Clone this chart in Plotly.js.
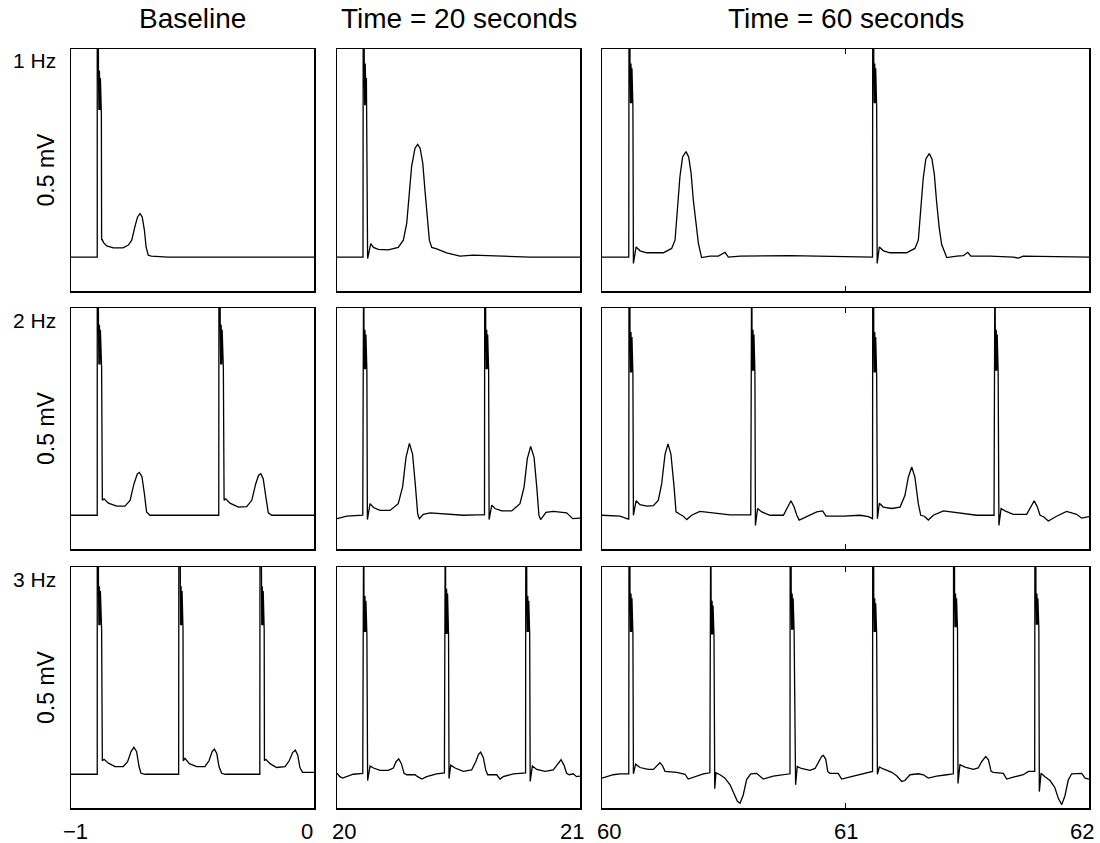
<!DOCTYPE html>
<html><head><meta charset="utf-8">
<script src="https://cdn.plot.ly/plotly-3.0.1.min.js"></script>
<style>html,body{margin:0;padding:0;background:#fff}#chart{width:1100px;height:843px}</style>
</head><body><div id="chart"></div>
<script>
// ---- categories / labels ----
var columnTitles = ['Baseline', 'Time = 20 seconds', 'Time = 60 seconds'];
var rowLabels = ['1 Hz', '2 Hz', '3 Hz'];
var yLabel = '0.5 mV';
var xRanges = [[-1, 0], [20, 21], [60, 62]];
var xTickValues = [[-1, 0], [20, 21], [60, 61, 62]];
var xTickLabels = [['\u22121', '0'], ['20', '21'], ['60', '61', '62']];
var yRangeMv = [-0.07, 0.43];

// ---- recordings: [time (s), potential (mV)] ----
var hz1_baseline = [
[-1.000,0.000],[-0.892,0.000],
[-0.892,0.60],[-0.888,0.60],[-0.887,0.390],[-0.885,0.304],[-0.883,0.385],[-0.881,0.304],[-0.879,0.370],[-0.877,0.304],[-0.876,0.340],[-0.875,0.295],
[-0.874,0.035],[-0.872,0.037],[-0.866,0.030],[-0.853,0.023],[-0.826,0.019],[-0.786,0.019],[-0.764,0.025],[-0.750,0.035],[-0.737,0.063],[-0.726,0.083],[-0.716,0.090],[-0.707,0.083],[-0.698,0.056],[-0.691,0.021],[-0.682,0.004],[-0.670,0.002],[-0.600,0.000],[0.000,0.000]
];
var hz1_t20 = [
[20.000,0.000],[20.107,0.000],
[20.108,0.60],[20.111,0.60],[20.112,0.403],[20.114,0.314],[20.116,0.400],[20.118,0.314],[20.119,0.390],[20.120,0.314],[20.121,0.370],[20.122,0.310],
[20.126,-0.003],[20.139,0.028],[20.150,0.020],[20.170,0.016],[20.211,0.015],[20.252,0.020],[20.273,0.035],[20.287,0.070],[20.296,0.124],[20.307,0.187],[20.321,0.225],[20.332,0.233],[20.342,0.225],[20.353,0.194],[20.362,0.138],[20.372,0.083],[20.380,0.035],[20.390,0.020],[20.410,0.017],[20.451,0.009],[20.506,0.002],[20.561,0.004],[20.657,0.002],[20.794,0.000],[21.000,0.000]
];
var hz1_t60 = [
[60.000,0.000],[60.110,0.000],
[60.111,0.60],[60.114,0.60],[60.115,0.407],[60.117,0.318],[60.119,0.400],[60.121,0.318],[60.123,0.390],[60.125,0.318],[60.126,0.370],[60.127,0.310],
[60.129,-0.013],[60.140,0.021],[60.156,0.013],[60.184,0.009],[60.252,0.009],[60.286,0.018],[60.300,0.035],[60.309,0.097],[60.320,0.166],[60.331,0.207],[60.345,0.218],[60.356,0.207],[60.366,0.173],[60.375,0.118],[60.386,0.063],[60.396,0.028],[60.409,-0.001],[60.444,0.002],[60.478,0.002],[60.505,0.010],[60.519,0.000],[60.567,0.002],[60.772,0.003],[60.991,0.002],[61.111,0.000],
[61.112,0.60],[61.115,0.60],[61.116,0.407],[61.118,0.318],[61.120,0.400],[61.122,0.318],[61.124,0.390],[61.126,0.318],[61.127,0.370],[61.128,0.310],
[61.130,-0.013],[61.139,0.021],[61.156,0.013],[61.183,0.009],[61.251,0.009],[61.285,0.018],[61.299,0.035],[61.308,0.097],[61.319,0.162],[61.330,0.203],[61.344,0.214],[61.355,0.203],[61.365,0.170],[61.374,0.115],[61.385,0.060],[61.395,0.026],[61.416,-0.001],[61.457,0.002],[61.484,0.003],[61.502,0.010],[61.515,0.002],[61.593,0.002],[61.689,0.000],[61.710,-0.002],[61.730,0.002],[62.000,0.000]
];
var hz2_baseline = [
[-1.000,0.000],[-0.892,0.000],
[-0.892,0.60],[-0.888,0.60],[-0.887,0.399],[-0.885,0.313],[-0.883,0.395],[-0.881,0.313],[-0.879,0.385],[-0.877,0.313],[-0.876,0.360],[-0.874,0.305],
[-0.871,0.031],[-0.864,0.034],[-0.846,0.025],[-0.812,0.019],[-0.778,0.019],[-0.757,0.031],[-0.741,0.065],[-0.727,0.086],[-0.719,0.089],[-0.708,0.080],[-0.698,0.045],[-0.689,0.007],[-0.675,0.000],[-0.392,0.000],
[-0.391,0.60],[-0.387,0.60],[-0.386,0.399],[-0.384,0.313],[-0.382,0.395],[-0.380,0.313],[-0.378,0.385],[-0.376,0.313],[-0.375,0.360],[-0.373,0.305],
[-0.370,0.031],[-0.363,0.034],[-0.346,0.025],[-0.311,0.017],[-0.277,0.018],[-0.256,0.031],[-0.240,0.065],[-0.228,0.083],[-0.219,0.086],[-0.209,0.076],[-0.199,0.041],[-0.188,0.005],[-0.174,0.000],[0.000,0.000]
];
var hz2_t20 = [
[20.000,-0.007],[20.040,-0.002],[20.106,0.000],
[20.107,0.60],[20.110,0.60],[20.111,0.390],[20.113,0.303],[20.115,0.385],[20.117,0.303],[20.119,0.375],[20.121,0.303],[20.122,0.350],[20.123,0.300],
[20.125,-0.009],[20.136,0.024],[20.150,0.016],[20.177,0.010],[20.218,0.010],[20.252,0.024],[20.270,0.059],[20.284,0.120],[20.298,0.149],[20.311,0.127],[20.322,0.065],[20.332,0.003],[20.339,-0.007],[20.355,0.002],[20.383,0.005],[20.451,0.003],[20.520,0.000],[20.575,0.001],[20.607,0.001],
[20.608,0.60],[20.611,0.60],[20.612,0.390],[20.614,0.303],[20.616,0.385],[20.618,0.303],[20.620,0.375],[20.622,0.303],[20.623,0.350],[20.624,0.300],
[20.626,-0.009],[20.637,0.021],[20.650,0.014],[20.678,0.009],[20.719,0.009],[20.753,0.024],[20.770,0.059],[20.783,0.117],[20.797,0.143],[20.811,0.120],[20.822,0.059],[20.831,0.000],[20.838,-0.009],[20.860,0.006],[20.890,0.008],[20.945,0.005],[20.970,-0.007],[20.993,-0.006],[21.000,-0.006]
];
var hz2_t60 = [
[60.000,0.000],[60.074,-0.002],[60.108,-0.008],[60.110,-0.008],
[60.111,0.60],[60.114,0.60],[60.115,0.386],[60.117,0.296],[60.119,0.380],[60.121,0.296],[60.123,0.370],[60.125,0.296],[60.126,0.350],[60.127,0.290],
[60.129,0.000],[60.140,0.030],[60.156,0.022],[60.184,0.019],[60.211,0.020],[60.231,0.031],[60.245,0.065],[60.259,0.127],[60.271,0.148],[60.283,0.127],[60.296,0.059],[60.304,0.007],[60.320,0.002],[60.334,-0.002],[60.348,-0.009],[60.368,0.000],[60.402,0.008],[60.457,0.005],[60.526,0.001],[60.611,0.001],
[60.612,0.60],[60.615,0.60],[60.616,0.390],[60.618,0.300],[60.620,0.385],[60.622,0.300],[60.624,0.375],[60.626,0.300],[60.627,0.350],[60.628,0.295],
[60.630,-0.021],[60.639,0.014],[60.656,0.007],[60.690,0.000],[60.745,0.000],[60.761,0.017],[60.776,0.030],[60.789,0.017],[60.800,0.000],[60.810,-0.010],[60.841,-0.003],[60.882,0.007],[60.906,0.009],[60.920,-0.002],[60.991,-0.002],[61.060,0.000],[61.094,-0.003],[61.111,-0.007],
[61.112,0.60],[61.115,0.60],[61.116,0.386],[61.118,0.296],[61.120,0.380],[61.122,0.296],[61.124,0.370],[61.126,0.296],[61.127,0.350],[61.128,0.290],
[61.131,-0.007],[61.139,0.025],[61.155,0.017],[61.190,0.014],[61.224,0.017],[61.244,0.041],[61.258,0.079],[61.272,0.100],[61.285,0.079],[61.299,0.024],[61.309,0.000],[61.324,-0.002],[61.340,-0.010],[61.361,0.000],[61.402,0.009],[61.457,0.005],[61.539,0.000],[61.610,0.000],
[61.611,0.60],[61.614,0.60],[61.615,0.390],[61.617,0.300],[61.619,0.385],[61.621,0.300],[61.623,0.375],[61.625,0.300],[61.626,0.350],[61.627,0.295],
[61.630,-0.021],[61.639,0.014],[61.655,0.009],[61.689,0.002],[61.744,0.002],[61.761,0.017],[61.775,0.030],[61.788,0.017],[61.799,0.000],[61.813,-0.003],[61.833,-0.012],[61.867,-0.002],[61.908,0.008],[61.949,0.002],[61.970,-0.006],[62.000,-0.003]
];
var hz3_baseline = [
[-1.000,0.000],[-0.892,0.000],
[-0.892,0.60],[-0.888,0.60],[-0.887,0.395],[-0.885,0.309],[-0.883,0.390],[-0.881,0.309],[-0.879,0.380],[-0.877,0.309],[-0.876,0.360],[-0.874,0.300],
[-0.871,0.028],[-0.864,0.031],[-0.846,0.023],[-0.819,0.016],[-0.785,0.016],[-0.767,0.026],[-0.753,0.047],[-0.741,0.056],[-0.730,0.047],[-0.720,0.016],[-0.712,0.002],[-0.695,0.000],[-0.557,0.000],
[-0.556,0.60],[-0.552,0.60],[-0.551,0.395],[-0.549,0.309],[-0.547,0.390],[-0.545,0.309],[-0.543,0.380],[-0.541,0.309],[-0.540,0.360],[-0.539,0.300],
[-0.538,0.028],[-0.531,0.033],[-0.513,0.022],[-0.483,0.016],[-0.449,0.016],[-0.432,0.028],[-0.419,0.047],[-0.410,0.052],[-0.400,0.043],[-0.391,0.016],[-0.380,0.002],[-0.366,0.000],[-0.223,0.000],
[-0.222,0.60],[-0.218,0.60],[-0.217,0.395],[-0.215,0.309],[-0.213,0.390],[-0.211,0.309],[-0.209,0.380],[-0.207,0.309],[-0.206,0.360],[-0.205,0.300],
[-0.204,0.028],[-0.198,0.031],[-0.181,0.022],[-0.154,0.014],[-0.119,0.016],[-0.102,0.028],[-0.088,0.045],[-0.077,0.050],[-0.067,0.040],[-0.058,0.014],[-0.047,0.004],[-0.023,0.004],[0.000,0.004]
];
var hz3_t20 = [
[20.000,0.002],[20.012,-0.005],[20.023,-0.008],[20.040,-0.005],[20.067,0.000],[20.106,0.002],
[20.107,0.60],[20.110,0.60],[20.111,0.377],[20.113,0.295],[20.115,0.370],[20.117,0.295],[20.119,0.360],[20.121,0.295],[20.122,0.340],[20.123,0.290],
[20.126,-0.013],[20.136,0.017],[20.150,0.013],[20.177,0.008],[20.211,0.008],[20.232,0.013],[20.243,0.026],[20.254,0.032],[20.265,0.022],[20.276,0.002],[20.287,-0.001],[20.321,-0.001],[20.332,-0.005],[20.349,-0.010],[20.369,-0.005],[20.410,0.001],[20.442,0.003],
[20.443,0.60],[20.446,0.60],[20.447,0.391],[20.449,0.291],[20.451,0.385],[20.453,0.291],[20.455,0.375],[20.457,0.291],[20.458,0.350],[20.459,0.290],
[20.461,-0.009],[20.468,0.019],[20.486,0.013],[20.520,0.006],[20.554,0.009],[20.571,0.026],[20.582,0.041],[20.591,0.046],[20.602,0.035],[20.612,0.009],[20.620,-0.001],[20.657,-0.001],[20.671,-0.010],[20.684,-0.005],[20.726,0.001],[20.776,0.003],
[20.777,0.60],[20.780,0.60],[20.781,0.377],[20.783,0.295],[20.785,0.370],[20.787,0.295],[20.789,0.360],[20.791,0.295],[20.792,0.340],[20.793,0.290],
[20.795,-0.015],[20.804,0.017],[20.822,0.010],[20.856,0.006],[20.890,0.009],[20.908,0.021],[20.922,0.030],[20.934,0.019],[20.945,0.002],[20.956,-0.001],[20.972,0.001],[20.986,-0.005],[21.000,-0.004]
];
var hz3_t60 = [
[60.000,-0.008],[60.046,-0.001],[60.074,0.001],[60.110,0.001],
[60.111,0.60],[60.114,0.60],[60.115,0.381],[60.117,0.295],[60.119,0.375],[60.121,0.295],[60.123,0.365],[60.125,0.295],[60.126,0.340],[60.127,0.290],
[60.129,0.001],[60.138,0.021],[60.156,0.014],[60.190,0.010],[60.211,0.010],[60.229,0.018],[60.238,0.024],[60.248,0.018],[60.259,0.006],[60.307,0.004],[60.341,0.000],[60.354,-0.010],[60.375,-0.006],[60.416,0.001],[60.443,0.003],
[60.444,0.60],[60.447,0.60],[60.448,0.365],[60.450,0.290],[60.452,0.360],[60.454,0.290],[60.456,0.350],[60.458,0.290],[60.459,0.330],[60.460,0.285],
[60.463,-0.030],[60.468,0.003],[60.485,-0.001],[60.505,-0.008],[60.526,-0.022],[60.542,-0.039],[60.556,-0.056],[60.567,-0.060],[60.580,-0.043],[60.594,-0.011],[60.611,0.001],[60.635,0.002],[60.649,-0.005],[60.662,-0.010],[60.703,-0.004],[60.745,-0.001],[60.772,0.001],
[60.773,0.60],[60.776,0.60],[60.777,0.381],[60.779,0.300],[60.781,0.375],[60.783,0.300],[60.785,0.365],[60.787,0.300],[60.788,0.340],[60.789,0.295],
[60.795,-0.022],[60.802,0.016],[60.819,0.012],[60.854,0.008],[60.875,0.012],[60.892,0.026],[60.902,0.037],[60.909,0.039],[60.919,0.031],[60.927,0.006],[60.936,0.002],[60.970,0.002],[60.984,-0.010],[61.032,-0.004],[61.108,0.006],[61.111,0.006],
[61.112,0.60],[61.115,0.60],[61.116,0.371],[61.118,0.295],[61.120,0.365],[61.122,0.295],[61.124,0.355],[61.126,0.295],[61.127,0.330],[61.128,0.290],
[61.131,0.000],[61.139,0.015],[61.155,0.011],[61.190,0.004],[61.210,-0.003],[61.231,-0.015],[61.244,-0.013],[61.265,-0.001],[61.299,0.001],[61.320,-0.001],[61.340,-0.008],[61.374,-0.004],[61.416,-0.001],[61.443,0.001],
[61.444,0.60],[61.447,0.60],[61.448,0.381],[61.450,0.305],[61.452,0.375],[61.454,0.305],[61.456,0.365],[61.458,0.305],[61.459,0.340],[61.460,0.300],
[61.462,-0.019],[61.470,0.020],[61.491,0.015],[61.525,0.010],[61.545,0.013],[61.559,0.026],[61.576,0.037],[61.587,0.030],[61.598,0.006],[61.607,0.004],[61.648,0.002],[61.662,-0.010],[61.689,-0.006],[61.730,-0.001],[61.751,0.006],[61.777,0.006],
[61.778,0.60],[61.781,0.60],[61.782,0.381],[61.784,0.310],[61.786,0.375],[61.788,0.310],[61.790,0.365],[61.792,0.310],[61.793,0.340],[61.794,0.305],
[61.796,-0.036],[61.803,0.002],[61.819,-0.005],[61.840,-0.013],[61.860,-0.028],[61.874,-0.050],[61.888,-0.063],[61.901,-0.045],[61.915,-0.012],[61.929,0.001],[61.970,0.002],[61.984,-0.008],[62.000,-0.010]
];

var panels = [
  [hz1_baseline, hz1_t20, hz1_t60],
  [hz2_baseline, hz2_t20, hz2_t60],
  [hz3_baseline, hz3_t20, hz3_t60]
];

// ---- layout geometry (pixels) ----
var W = 1100, H = 843;
var colPx = [[71, 314], [337, 580], [602, 1089]];
var rowPx = [[49, 291], [308, 549], [567, 808]];
var tickLabelShiftPx = [[4, -7], [7, -8], [7, 0, -7]];
var FONT = 'Liberation Sans, Arial, Helvetica, sans-serif';

var traces = [];
var layout = {
  width: W, height: H,
  margin: {l: 0, r: 0, t: 0, b: 0},
  paper_bgcolor: '#ffffff', plot_bgcolor: '#ffffff',
  font: {family: FONT, color: '#000000', size: 20},
  showlegend: false,
  annotations: []
};

for (var r = 0; r < 3; r++) {
  for (var c = 0; c < 3; c++) {
    var p = r * 3 + c + 1;
    var sfx = p === 1 ? '' : String(p);
    var rec = panels[r][c];
    traces.push({
      x: rec.map(function (d) { return d[0]; }),
      y: rec.map(function (d) { return d[1]; }),
      xaxis: 'x' + sfx, yaxis: 'y' + sfx,
      type: 'scatter', mode: 'lines',
      line: {color: '#000000', width: 1.3},
      hoverinfo: 'skip', showlegend: false
    });
    layout['xaxis' + sfx] = {
      domain: [colPx[c][0] / W, colPx[c][1] / W],
      anchor: 'y' + sfx,
      range: xRanges[c],
      tickmode: 'array', tickvals: xTickValues[c], ticktext: xTickLabels[c],
      ticks: 'inside', ticklen: 5, tickwidth: 1, tickcolor: '#000000',
      showticklabels: false,
      showline: true, linecolor: '#000000', linewidth: 1.5, mirror: 'ticks',
      showgrid: false, zeroline: false, fixedrange: true
    };
    var ya = {
      domain: [1 - rowPx[r][1] / H, 1 - rowPx[r][0] / H],
      anchor: 'x' + sfx,
      range: yRangeMv,
      ticks: '', showticklabels: false,
      showline: true, linecolor: '#000000', linewidth: 1.5, mirror: true,
      showgrid: false, zeroline: false, fixedrange: true
    };
    if (c === 0) {
      ya.title = {text: yLabel, font: {size: 23, family: FONT, color: '#000000'}, standoff: 8};
    }
    layout['yaxis' + sfx] = ya;
  }
}

// bottom-row tick labels, anchored at the tick values of each time axis
for (var c3 = 0; c3 < 3; c3++) {
  var axId = 'x' + (6 + c3 + 1);
  for (var k = 0; k < xTickValues[c3].length; k++) {
    layout.annotations.push({
      text: xTickLabels[c3][k], xref: axId, yref: 'paper',
      x: xTickValues[c3][k], y: 1 - 831 / H, xshift: tickLabelShiftPx[c3][k],
      xanchor: 'center', yanchor: 'middle', showarrow: false,
      font: {size: 22, family: FONT, color: '#000000'}
    });
  }
}
// column titles
for (var c2 = 0; c2 < 3; c2++) {
  layout.annotations.push({
    text: columnTitles[c2], xref: 'paper', yref: 'paper',
    x: (colPx[c2][0] + colPx[c2][1]) / 2 / W, y: 1 - 18 / H,
    xanchor: 'center', yanchor: 'middle', showarrow: false,
    font: {size: 28, family: FONT, color: '#000000'}
  });
}
// row labels
for (var r2 = 0; r2 < 3; r2++) {
  layout.annotations.push({
    text: rowLabels[r2], xref: 'paper', yref: 'paper',
    x: 58 / W, y: 1 - (rowPx[r2][0] + 12) / H,
    xanchor: 'right', yanchor: 'middle', showarrow: false,
    font: {size: 21, family: FONT, color: '#000000'}
  });
}

Plotly.newPlot('chart', traces, layout, {staticPlot: true, displayModeBar: false});
</script>
</body></html>
